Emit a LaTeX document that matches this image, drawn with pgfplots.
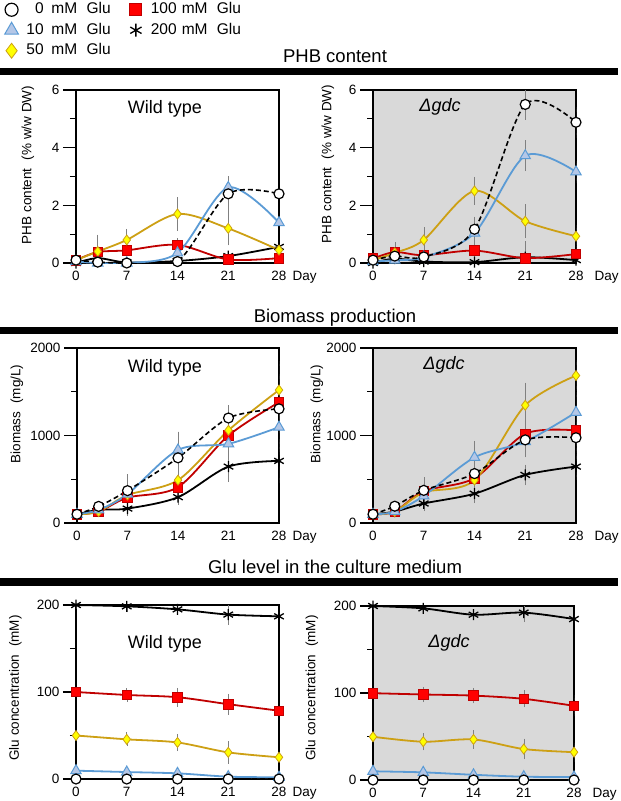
\documentclass[border=0pt]{standalone}
\usepackage{fontspec}
\setmainfont{Liberation Sans}
\usepackage{pgfplots}
\pgfplotsset{compat=1.18}
\newcommand\fs[1]{\fontsize{#1pt}{#1pt}\selectfont}
\definecolor{cblue}{RGB}{91,155,213}
\definecolor{cbluefill}{RGB}{180,199,231}
\definecolor{cgold}{RGB}{205,160,20}
\definecolor{cyel}{RGB}{255,255,0}
\definecolor{cdred}{RGB}{192,0,0}
\definecolor{cred}{RGB}{255,0,0}
\definecolor{cbg}{RGB}{217,217,217}
\tikzset{
 s0/.style={black, line width=1.6pt, dash pattern=on 5pt off 3pt, mark=*, mark size=5pt, mark options={solid, fill=white, draw=black, line width=1.2pt}},
 s10/.style={cblue, line width=1.8pt, mark=triangle*, mark size=6pt, mark options={solid, fill=cbluefill, draw=cblue, line width=1pt}},
 s50/.style={cgold, line width=1.8pt, mark=diamond*, mark size=5pt, mark options={solid, fill=cyel, draw=cgold, line width=0.8pt}},
 s100/.style={cdred, line width=1.8pt, mark=square*, mark size=4.8pt, mark options={solid, fill=cred, draw=cdred, line width=0.8pt}},
 s200/.style={black, line width=1.8pt, mark=asterisk, mark size=5.5pt, mark options={solid, line width=1.3pt}},
}
\pgfplotsset{
 panel/.style={
  scale only axis, width=203pt, anchor=south west,
  xmin=0, xmax=28, xtick={0,7,14,21,28},
  axis line style={line width=1.2pt},
  tick align=outside, major tick length=13pt, minor tick length=6pt,
  xtick pos=bottom, ytick pos=left,
  every tick/.style={black, line width=1.2pt},
  every x tick/.append style={draw=none},
  tick label style={font=\fs{13.5}},
  x tick label style={yshift=8.5pt},
  /pgf/number format/assume math mode=true,
  /pgf/number format/1000 sep={},
  clip=true,
 },
 gdc/.style={axis background/.style={fill=cbg}},
 eb/.style={smooth, tension=0.5, error bars/.cd, y dir=both, y explicit, error bar style={solid, line width=0.5pt, draw=gray}, error mark options={solid, draw=gray, mark size=2.5pt, line width=0.5pt}},
}
\begin{document}
\begin{tikzpicture}
\path[use as bounding box] (0pt,0pt) rectangle (621pt,-801pt);
% section titles and bars
\node[anchor=base, font=\fs{18.5}] at (335pt,-62pt) {PHB content};
\fill (0pt,-68pt) rectangle (618pt,-75pt);
\node[anchor=base, font=\fs{18.5}] at (335pt,-322pt) {Biomass production};
\fill (0pt,-327pt) rectangle (618pt,-334pt);
\node[anchor=base, font=\fs{18.5}] at (335pt,-573pt) {Glu level in the culture medium};
\fill (0pt,-578pt) rectangle (618pt,-586pt);

% ---------- PHB Wild type ----------
\begin{axis}[panel, at={(76pt,-263pt)}, height=173pt,
  ymin=0, ymax=6, ytick={0,2,4,6}, minor ytick={1,3,5},
  legend image code/.code={\path (0pt,-6pt) (22pt,6pt); \draw[#1] plot coordinates {(10pt,0pt)};},
  legend style={at={(-0.372,1.52)}, anchor=north west, draw=none, fill=none, font=\fs{15.5}, inner sep=0pt,
    nodes={inner sep=2pt, text height=11.5pt, text depth=3.5pt, text width=95pt, align=left},
    /tikz/every even column/.append style={column sep=1.5pt}, row sep=1.5pt},
  legend columns=2, legend cell align=left]
\addlegendimage{s0, mark size=6.5pt}\addlegendentry{\phantom{1}0\hspace{0.5em}mM\hspace{0.6em}Glu}
\addlegendimage{s100, mark size=6pt}\addlegendentry{100 mM\hspace{0.6em}Glu}
\addlegendimage{s10, mark size=8pt}\addlegendentry{10\hspace{0.5em}mM\hspace{0.6em}Glu}
\addlegendimage{s200, mark size=6.5pt}\addlegendentry{200 mM\hspace{0.6em}Glu}
\addlegendimage{s50, mark size=7.5pt}\addlegendentry{50\hspace{0.5em}mM\hspace{0.6em}Glu}
\addplot[s200, eb] coordinates {(0,0.0) +- (0,0.05) (3,0.17) +- (0,0.1) (7,0.02) +- (0,0.05) (14,0.07) +- (0,0.05) (21,0.24) +- (0,0.1) (28,0.56) +- (0,0.3)};
\addplot[s100, eb] coordinates {(0,0.1) +- (0,0.05) (3,0.38) +- (0,0.2) (7,0.44) +- (0,0.1) (14,0.63) +- (0,0.15) (21,0.12) +- (0,0.1) (28,0.17) +- (0,0.1)};
\addplot[s50, eb] coordinates {(0,0.1) +- (0,0.05) (3,0.4) +- (0,0.5) (7,0.8) +- (0,0.3) (14,1.7) +- (0,0.5) (21,1.2) +- (0,0.5) (28,0.45) +- (0,0.3)};
\addplot[s10, eb] coordinates {(0,0.05) +- (0,0.05) (3,0.0) +- (0,0.05) (7,0.0) +- (0,0.05) (14,0.35) +- (0,0.15) (21,2.62) +- (0,0.3) (28,1.4) +- (0,0.2)};
\addplot[s0, eb] coordinates {(0,0.1) +- (0,0.05) (3,0.03) +- (0,0.05) (7,0.0) +- (0,0.05) (14,0.05) +- (0,0.1) (21,2.4) +- (0,0.5) (28,2.4) +- (0,0.4)};
\end{axis}

% ---------- PHB gdc ----------
\begin{axis}[panel, gdc, at={(373pt,-263pt)}, height=173pt,
  ymin=0, ymax=6, ytick={0,2,4,6}, minor ytick={1,3,5}]
\addplot[s200, eb] coordinates {(0,0.0) +- (0,0.05) (3,0.15) +- (0,0.05) (7,0.05) +- (0,0.05) (14,0.03) +- (0,0.05) (21,0.2) +- (0,0.1) (28,0.1) +- (0,0.1)};
\addplot[s100, eb] coordinates {(0,0.15) +- (0,0.05) (3,0.38) +- (0,0.25) (7,0.27) +- (0,0.1) (14,0.43) +- (0,0.15) (21,0.17) +- (0,0.5) (28,0.31) +- (0,0.2)};
\addplot[s50, eb] coordinates {(0,0.1) +- (0,0.05) (3,0.35) +- (0,0.15) (7,0.8) +- (0,0.35) (14,2.5) +- (0,0.4) (21,1.45) +- (0,0.5) (28,0.93) +- (0,0.3)};
\addplot[s10, eb] coordinates {(0,0.05) +- (0,0.05) (3,0.1) +- (0,0.05) (7,0.2) +- (0,0.1) (14,1.04) +- (0,0.3) (21,3.72) +- (0,0.45) (28,3.16) +- (0,0.3)};
\addplot[s0, eb] coordinates {(0,0.1) +- (0,0.05) (3,0.24) +- (0,0.1) (7,0.21) +- (0,0.1) (14,1.17) +- (0,0.35) (21,5.5) +- (0,0.45) (28,4.88) +- (0,0.45)};
\end{axis}

% ---------- Biomass Wild type ----------
\begin{axis}[panel, at={(77pt,-523pt)}, width=202pt, height=175pt,
  ymin=0, ymax=2000, ytick={0,1000,2000}, minor ytick={500,1500}]
\addplot[s200, eb] coordinates {(0,100) +- (0,20) (3,150) +- (0,30) (7,165) +- (0,60) (14,295) +- (0,60) (21,645) +- (0,150) (28,710) +- (0,220)};
\addplot[s100, eb] coordinates {(0,100) +- (0,20) (3,130) +- (0,30) (7,290) +- (0,60) (14,410) +- (0,100) (21,1000) +- (0,150) (28,1380) +- (0,300)};
\addplot[s50, eb] coordinates {(0,100) +- (0,20) (3,130) +- (0,30) (7,320) +- (0,60) (14,490) +- (0,100) (21,1060) +- (0,150) (28,1520) +- (0,300)};
\addplot[s10, eb] coordinates {(0,100) +- (0,20) (3,150) +- (0,30) (7,330) +- (0,60) (14,835) +- (0,180) (21,905) +- (0,100) (28,1095) +- (0,250)};
\addplot[s0, eb] coordinates {(0,100) +- (0,20) (3,190) +- (0,30) (7,370) +- (0,160) (14,745) +- (0,270) (21,1200) +- (0,120) (28,1305) +- (0,250)};
\end{axis}

% ---------- Biomass gdc ----------
\begin{axis}[panel, gdc, at={(373pt,-523pt)}, height=175pt,
  ymin=0, ymax=2000, ytick={0,1000,2000}, minor ytick={500,1500}]
\addplot[s200, eb] coordinates {(0,100) +- (0,20) (3,130) +- (0,30) (7,223) +- (0,60) (14,335) +- (0,80) (21,550) +- (0,90) (28,645) +- (0,120)};
\addplot[s100, eb] coordinates {(0,100) +- (0,20) (3,130) +- (0,30) (7,365) +- (0,60) (14,512) +- (0,100) (21,1020) +- (0,150) (28,1058) +- (0,150)};
\addplot[s50, eb] coordinates {(0,100) +- (0,20) (3,130) +- (0,30) (7,350) +- (0,60) (14,490) +- (0,100) (21,1345) +- (0,230) (28,1685) +- (0,150)};
\addplot[s10, eb] coordinates {(0,100) +- (0,20) (3,130) +- (0,30) (7,310) +- (0,60) (14,750) +- (0,160) (21,930) +- (0,150) (28,1265) +- (0,200)};
\addplot[s0, eb] coordinates {(0,100) +- (0,20) (3,192) +- (0,30) (7,373) +- (0,120) (14,565) +- (0,120) (21,950) +- (0,150) (28,975) +- (0,150)};
\end{axis}

% ---------- Glu Wild type ----------
\begin{axis}[panel, at={(76pt,-779pt)}, height=174pt,
  ymin=0, ymax=200, ytick={0,100,200}, minor ytick={50,150}]
\addplot[s200, eb] coordinates {(0,200) +- (0,2) (7,198.5) +- (0,4) (14,195) +- (0,3) (21,189) +- (0,9) (28,187) +- (0,5)};
\addplot[s100, eb] coordinates {(0,100) +- (0,3) (7,96.6) +- (0,5) (14,94) +- (0,8) (21,86) +- (0,9) (28,78.5) +- (0,10)};
\addplot[s50, eb] coordinates {(0,50) +- (0,2) (7,45.6) +- (0,5) (14,42) +- (0,7) (21,30.6) +- (0,10) (28,25) +- (0,5)};
\addplot[s10, eb] coordinates {(0,9.6) +- (0,1) (7,8) +- (0,1) (14,6.5) +- (0,1) (21,2.7) +- (0,1) (28,2) +- (0,1)};
\addplot[s0, eb] coordinates {(0,0) +- (0,0) (7,0) +- (0,0) (14,0) +- (0,0) (21,0) +- (0,0) (28,0) +- (0,0)};
\end{axis}

% ---------- Glu gdc ----------
\begin{axis}[panel, gdc, at={(373pt,-780pt)}, width=201pt, height=174pt,
  ymin=0, ymax=200, ytick={0,100,200}, minor ytick={50,150}]
\addplot[s200, eb] coordinates {(0,200) +- (0,2) (7,197.3) +- (0,3) (14,190) +- (0,3) (21,192.4) +- (0,8) (28,185) +- (0,3)};
\addplot[s100, eb] coordinates {(0,99.8) +- (0,3) (7,98.3) +- (0,6) (14,97) +- (0,6) (21,93.3) +- (0,7) (28,85.3) +- (0,9)};
\addplot[s50, eb] coordinates {(0,49.7) +- (0,2) (7,44) +- (0,7) (14,46.6) +- (0,8) (21,35.6) +- (0,9) (28,32) +- (0,8)};
\addplot[s10, eb] coordinates {(0,10) +- (0,1) (7,8.8) +- (0,1) (14,6) +- (0,1) (21,3.8) +- (0,1) (28,3.4) +- (0,1)};
\addplot[s0, eb] coordinates {(0,0) +- (0,0) (7,0) +- (0,0) (14,0) +- (0,0) (21,0) +- (0,0) (28,0) +- (0,0)};
\end{axis}

% Day labels
\node[anchor=north west, font=\fs{13.5}] at (289pt,-267.5pt) {Day};
\node[anchor=north west, font=\fs{13.5}] at (591pt,-267.5pt) {Day};
\node[anchor=north west, font=\fs{13.5}] at (289pt,-527.5pt) {Day};
\node[anchor=north west, font=\fs{13.5}] at (591pt,-527.5pt) {Day};
\node[anchor=north west, font=\fs{13.5}] at (289pt,-783.5pt) {Day};
\node[anchor=north west, font=\fs{13.5}] at (589pt,-784.5pt) {Day};
% panel labels
\node[anchor=base, font=\fs{18}] at (165pt,-113pt) {Wild type};
\node[anchor=base, font=\fs{18}\itshape] at (440pt,-111pt) {Δgdc};
\node[anchor=base, font=\fs{18}] at (165pt,-372pt) {Wild type};
\node[anchor=base, font=\fs{18}\itshape] at (444pt,-369pt) {Δgdc};
\node[anchor=base, font=\fs{18}] at (165pt,-648pt) {Wild type};
\node[anchor=base, font=\fs{18}\itshape] at (449pt,-647pt) {Δgdc};
% y labels
\node[rotate=90, font=\fs{13.5}] at (28pt,-165pt) {PHB content\hspace{0.6em}(\% w/w DW)};
\node[rotate=90, font=\fs{13.5}] at (328pt,-164pt) {PHB content\hspace{0.6em}(\% w/w DW)};
\node[rotate=90, font=\fs{13.5}] at (17pt,-414pt) {Biomass\hspace{0.6em}(mg/L)};
\node[rotate=90, font=\fs{13.5}] at (317pt,-414pt) {Biomass\hspace{0.6em}(mg/L)};
\node[rotate=90, font=\fs{13.5}] at (15.5pt,-688pt) {Glu concentration\hspace{0.6em}(mM)};
\node[rotate=90, font=\fs{13.5}] at (312pt,-688pt) {Glu concentration\hspace{0.6em}(mM)};
\end{tikzpicture}
\end{document}
